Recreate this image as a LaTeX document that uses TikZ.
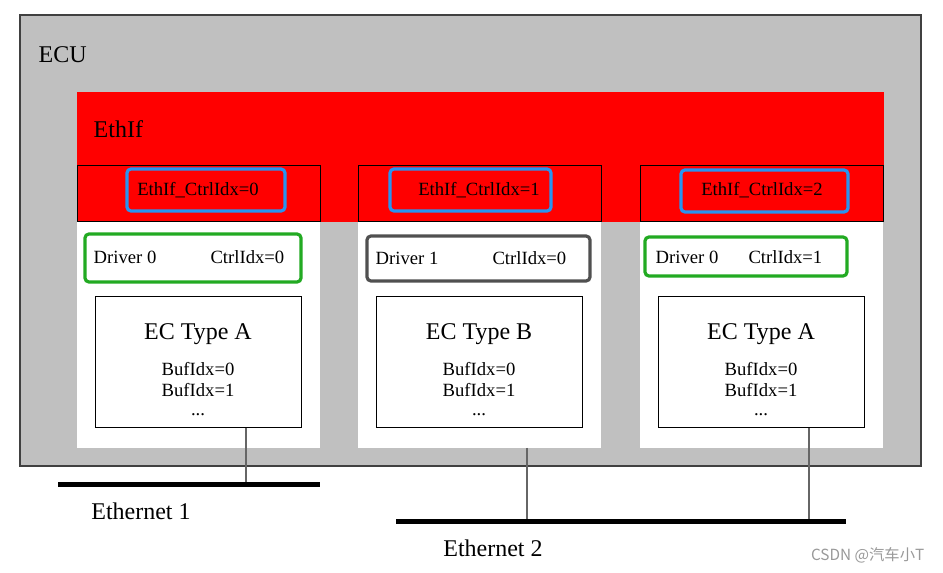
\documentclass[tikz,border=0pt]{standalone}
\usepackage{fontspec}
\setmainfont{Liberation Serif}
\newfontfamily\cjkfont{Noto Sans CJK SC}
\usepackage{xcolor}
\usetikzlibrary{positioning,calc}

\definecolor{ecugray}{HTML}{C0C0C0}
\definecolor{ecuedge}{HTML}{404040}
\definecolor{ethred}{HTML}{FF0000}
\definecolor{idxblue}{HTML}{2894F0}
\definecolor{drvgreen}{HTML}{22AA22}
\definecolor{drvgray}{HTML}{505050}
\definecolor{tapgray}{HTML}{666666}

\begin{document}
\begin{tikzpicture}[x=0.75pt,y=-0.75pt,
    bigtxt/.style={font=\fontsize{18}{21}\selectfont},
    smalltxt/.style={font=\fontsize{14}{16}\selectfont},
    area/.style={rectangle, inner sep=0pt, outer sep=0pt, anchor=north west},
    column/.style={area, fill=white, minimum width=243*0.75pt, minimum height=226*0.75pt},
    ctrlbox/.style={area, draw=black, line width=0.75pt, fill=ethred, minimum width=243*0.75pt, minimum height=56*0.75pt},
    idxbox/.style={area, draw=idxblue, line width=2.4pt, rounded corners=3pt, minimum height=42*0.75pt, smalltxt},
    drvbox/.style={area, draw=drvgreen, line width=2.4pt, rounded corners=3pt},
    ecbox/.style={area, draw=black, line width=0.75pt, fill=white, minimum width=206*0.75pt, minimum height=131*0.75pt},
    bus/.style={line width=3.75pt},
    tap/.style={draw=tapgray, line width=1.5pt}]
    \useasboundingbox (0,0) rectangle (943,573);
    \fill[white] (0,0) rectangle (943,573);

    % ECU and EthIf
    \node[area, fill=ecugray, draw=ecuedge, line width=1.1pt, minimum width=901*0.75pt, minimum height=451*0.75pt] (ecu) at (20,15) {};
    \node[bigtxt, anchor=west] (ecutxt) at (34,55) {ECU};
    \node[area, fill=ethred, minimum width=807*0.75pt, minimum height=130*0.75pt] (ethif) at (77,92) {};
    \node[bigtxt, anchor=west] (ethiftxt) at (89,129) {EthIf};

    % columns
    \node[column] (col1) at (77,222) {};
    \node[column] (col2) at (358,222) {};
    \node[column] (col3) at (640,222) {};
    \node[ctrlbox] (ctrl1) at (77,166) {};
    \node[ctrlbox] (ctrl2) at (358,166) {};
    \node[ctrlbox] (ctrl3) at (640,166) {};

    % EthIf controller indices
    \node[idxbox, minimum width=158*0.75pt] (idx1) at (127,169) {};
    \node[smalltxt] at (198,190) {EthIf\_CtrlIdx=0};
    \node[idxbox, minimum width=161*0.75pt] (idx2) at (390,169) {};
    \node[smalltxt] at (479,190) {EthIf\_CtrlIdx=1};
    \node[idxbox, minimum width=167*0.75pt] (idx3) at (681,170) {};
    \node[smalltxt] at (762,190) {EthIf\_CtrlIdx=2};

    % drivers
    \node[drvbox, minimum width=216*0.75pt, minimum height=48*0.75pt] (drv1) at (85,234) {};
    \node[smalltxt, anchor=west] at (89,257) {Driver 0};
    \node[smalltxt, anchor=east] at (289,257) {CtrlIdx=0};
    \node[drvbox, draw=drvgray, minimum width=223*0.75pt, minimum height=45*0.75pt] (drv2) at (367,236) {};
    \node[smalltxt, anchor=west] at (371,258) {Driver 1};
    \node[smalltxt, anchor=east] at (571,258) {CtrlIdx=0};
    \node[drvbox, minimum width=202*0.75pt, minimum height=39*0.75pt] (drv3) at (645,237) {};
    \node[smalltxt, anchor=west] at (651,257) {Driver 0};
    \node[smalltxt, anchor=east] at (827,257) {CtrlIdx=1};

    % Ethernet controllers
    \node[ecbox] (ec1) at (95,297) {};
    \node[ecbox] (ec2) at (376,297) {};
    \node[ecbox] (ec3) at (658,297) {};
    \node[bigtxt] at ($(ec1.north)+(0,37)$) {EC Type A};
    \node[smalltxt] at ($(ec1.north)+(0,72)$) {BufIdx=0};
    \node[smalltxt] at ($(ec1.north)+(0,93)$) {BufIdx=1};
    \node[smalltxt] at ($(ec1.north)+(0,118)$) {...};
    \node[bigtxt] at ($(ec2.north)+(0,37)$) {EC Type B};
    \node[smalltxt] at ($(ec2.north)+(0,72)$) {BufIdx=0};
    \node[smalltxt] at ($(ec2.north)+(0,93)$) {BufIdx=1};
    \node[smalltxt] at ($(ec2.north)+(0,118)$) {...};
    \node[bigtxt] at ($(ec3.north)+(0,37)$) {EC Type A};
    \node[smalltxt] at ($(ec3.north)+(0,72)$) {BufIdx=0};
    \node[smalltxt] at ($(ec3.north)+(0,93)$) {BufIdx=1};
    \node[smalltxt] at ($(ec3.north)+(0,118)$) {...};

    % busses
    \coordinate (eth1w) at (58,485);
    \coordinate (eth1e) at (320,485);
    \coordinate (eth2w) at (396,522);
    \coordinate (eth2e) at (846,522);
    \coordinate (tap1) at (246,485);
    \coordinate (tap2) at (527,522);
    \coordinate (tap3) at (809,522);
    \draw[tap] (tap1 |- ec1.south) -- (tap1);
    \draw[tap] (tap2 |- col2.south) -- (tap2);
    \draw[tap] (tap3 |- ec3.south) -- (tap3);
    \draw[bus] (eth1w) -- (eth1e);
    \draw[bus] (eth2w) -- (eth2e);
    \node[bigtxt] (eth1txt) at (141,511) {Ethernet 1};
    \node[bigtxt] (eth2txt) at (493,548) {Ethernet 2};

    \node[anchor=east, text=black!40, font=\cjkfont\fontsize{11.5}{13}\selectfont] (mark) at (929,555) {CSDN @汽车小T};
\end{tikzpicture}
\end{document}
